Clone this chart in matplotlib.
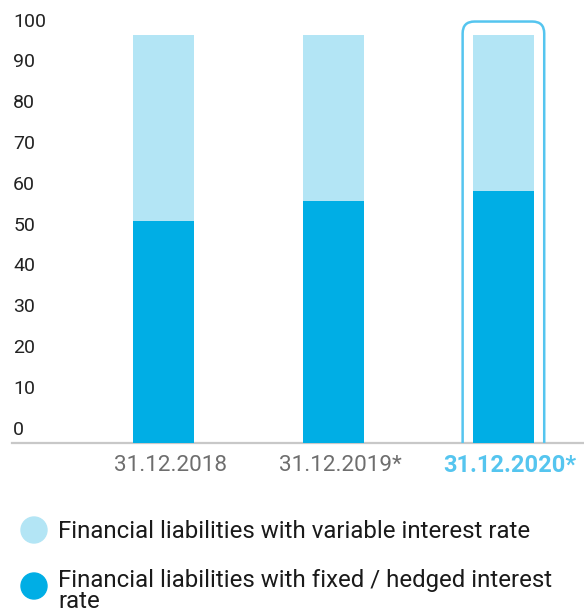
import matplotlib
matplotlib.use("Agg")
import matplotlib.pyplot as plt
from matplotlib.patches import FancyBboxPatch, Circle, Rectangle
from matplotlib.transforms import blended_transform_factory

# Data (percent of financial liabilities)
dates = ["31.12.2018", "31.12.2019*", "31.12.2020*"]
fixed_rate = [54.3, 59.2, 61.7]
variable_rate = [45.7, 40.8, 38.3]
y_ticks = [0, 10, 20, 30, 40, 50, 60, 70, 80, 90, 100]
legend_labels = [
    "Financial liabilities with variable interest rate",
    "Financial liabilities with fixed / hedged interest\nrate",
]

LIGHT = "#b3e5f5"
DARK = "#00aee5"
HIGHLIGHT = "#55c5ef"
FONT = "Roboto"

W, H = 584, 612
fig = plt.figure(figsize=(W / 100, H / 100), dpi=100)


def fx(px):
    return px / W


def fy(py):
    return 1 - py / H


# Axes: baseline at y=443px, value 100 at y=35px, x from 12px to 584px
ax = fig.add_axes([fx(12), fy(443), fx(584) - fx(12), fy(35) - fy(443)])
ax.set_ylim(0, 100)
ax.set_xlim(-0.891, 2.474)
ax.axis("off")

x = list(range(len(dates)))
width = 0.359
ax.bar(x, fixed_rate, width=width, color=DARK, zorder=2)
ax.bar(x, variable_rate, width=width, bottom=fixed_rate, color=LIGHT, zorder=2)

# baseline
ax.axhline(0, color="#c8c8c8", lw=1.6, zorder=1, clip_on=False)

# y tick labels sit above their value
trans = blended_transform_factory(ax.transAxes, ax.transData)
for v in y_ticks:
    ax.text(0.002, v + 3.3, str(v), transform=trans, ha="left", va="center",
            fontsize=14, color="#222222", family=FONT)

# x labels (slightly right of bar centre, as in the original)
for i, d in enumerate(dates):
    last = i == len(dates) - 1
    ax.text(i + 0.04, -5.6, d, ha="center", va="center",
            fontsize=17 if last else 16.2,
            color=HIGHLIGHT if last else "#6e6e6e",
            fontweight="bold" if last else "normal", family=FONT)

# highlight frame around the latest bar (rounded top, open at the baseline)
box = FancyBboxPatch((2 - 0.24, -10), 0.48, 113.3,
                     boxstyle="round,pad=0,rounding_size=0.07",
                     mutation_aspect=170 / 4.08,
                     fill=False, ec=HIGHLIGHT, lw=1.8, zorder=3)
ax.add_patch(box)
clip = Rectangle((1.5, 0), 1.0, 110, transform=ax.transData)
box.set_clip_path(clip)

# legend drawn by hand
for (cy, ty, col, lab) in [(530, 532, LIGHT, legend_labels[0]),
                           (586, 591, DARK, legend_labels[1])]:
    fig.patches.append(Circle((34, H - cy), 13, color=col,
                              transform=None, figure=fig))
    fig.text(fx(58), fy(ty), lab, ha="left", va="center", fontsize=17.3,
             color="#1a1a1a", family=FONT, linespacing=0.9)

fig.savefig("out.png", dpi=100)
